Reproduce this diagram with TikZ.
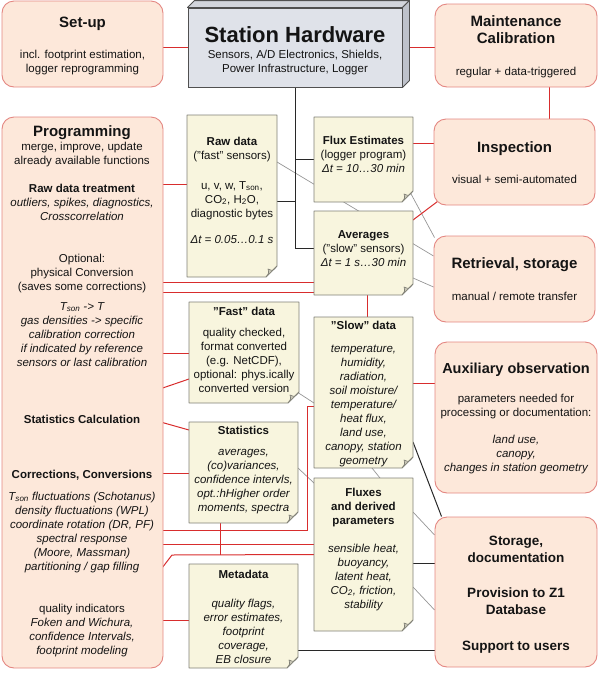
\documentclass[tikz,border=0pt]{standalone}
\usepackage{fontspec}
\setmainfont{Liberation Sans}
\usetikzlibrary{calc}
\pgfdeclarelayer{bg}
\pgfsetlayers{bg,main}

\definecolor{boxfill}{RGB}{253,232,218}
\definecolor{boxdraw}{RGB}{228,135,130}
\definecolor{notefill}{RGB}{248,245,222}
\definecolor{notedraw}{RGB}{128,128,118}
\definecolor{foldfill}{RGB}{200,198,182}
\definecolor{hwfront}{RGB}{223,226,233}
\definecolor{hwtop}{RGB}{210,213,220}
\definecolor{hwside}{RGB}{190,194,203}
\definecolor{hwdraw}{RGB}{80,80,80}
\definecolor{redln}{RGB}{216,45,45}
\definecolor{grayln}{RGB}{150,150,150}
\definecolor{blackln}{RGB}{40,40,40}
\definecolor{txtcol}{RGB}{20,20,20}

\newcommand\dq{\symbol{34}}

\tikzset{
 rbox/.style={draw=boxdraw, fill=boxfill, rounded corners=12pt, line width=0.9pt, inner sep=0pt},
 notenode/.style={inner sep=0pt, outer sep=0pt},
 notestyle/.style={draw=notedraw, fill=notefill, line width=0.8pt, line join=round},
 foldstyle/.style={draw=notedraw, fill=foldfill, line width=0.6pt, line join=round},
 txt/.style={anchor=base, align=center, inner sep=0pt, font=\fontsize{11.5}{14}\selectfont, text=txtcol},
 itx/.style={txt, font=\fontsize{11.5}{14}\selectfont\itshape},
 bfx/.style={txt, font=\fontsize{11.5}{14}\selectfont\bfseries},
 ttl/.style={txt, font=\fontsize{15}{17}\selectfont\bfseries},
 bigb/.style={txt, font=\fontsize{13.5}{17.5}\selectfont\bfseries},
 redc/.style={draw=redln, line width=1pt},
 blkc/.style={draw=blackln, line width=1pt},
 grayc/.style={draw=grayln, line width=0.7pt},
}

\newcommand\rbx[5]{\node[rbox, minimum width={#4pt-#2pt}, minimum height={#5pt-#3pt}] (#1) at ({(#2+#4)/2},{(#3+#5)/2}) {};}
\newcommand\notebx[5]{%
  \node[notenode, minimum width={#4pt-#2pt}, minimum height={#5pt-#3pt}] (#1) at ({(#2+#4)/2},{(#3+#5)/2}) {};
  \filldraw[notestyle] (#1.north west) -- (#1.north east) -- ([yshift=11pt]#1.south east) -- ([xshift=-11pt]#1.south east) -- (#1.south west) -- cycle;
  \filldraw[foldstyle] ([yshift=11pt]#1.south east) .. controls ([shift={(-4pt,6pt)}]#1.south east) .. ([shift={(-9pt,8pt)}]#1.south east) .. controls ([shift={(-8pt,4pt)}]#1.south east) .. ([xshift=-11pt]#1.south east) -- cycle;
}

\begin{document}
\begin{tikzpicture}[x=1pt,y=-1pt]
\useasboundingbox (0,0) rectangle (600,686);

% ---------- rounded boxes ----------
\rbx{setup}{2}{1}{163}{87}
\rbx{maint}{435}{4}{597}{87}
\rbx{prog}{2}{117}{163}{668}
\rbx{insp}{434}{119}{595}{205}
\rbx{retr}{434}{236}{595}{322}
\rbx{aux}{435}{342}{597}{493}
\rbx{stor}{435}{517}{597}{667}

% ---------- station hardware ----------
\node[draw=hwdraw, fill=hwfront, line width=0.9pt, minimum width=214pt, minimum height=79pt, inner sep=0pt] (hw) at (295,47.5) {};
\filldraw[draw=hwdraw, fill=hwtop, line width=0.9pt, line join=round] (hw.north west) -- ([shift={(7pt,7pt)}]hw.north west) -- ([shift={(7pt,7pt)}]hw.north east) -- (hw.north east) -- cycle;
\filldraw[draw=hwdraw, fill=hwside, line width=0.9pt, line join=round] (hw.north east) -- ([shift={(7pt,7pt)}]hw.north east) -- ([shift={(7pt,7pt)}]hw.south east) -- (hw.south east) -- cycle;

% ---------- note boxes ----------
\notebx{raw}{187}{115}{277}{277}
\notebx{fest}{314}{117}{413}{202}
\notebx{avg}{314}{211}{413}{295}
\notebx{fast}{189}{302}{299}{403}
\notebx{slow}{314}{317}{413}{468}
\notebx{stat}{189}{422}{298}{523}
\notebx{flx}{314}{478}{413}{631}
\notebx{meta}{189}{564}{298}{668}

% ---------- texts (base = baseline of the last line) ----------
\node[ttl] (setupt) at (82.5,27) {Set-up};
\node[txt] (setupb) at (82.5,72) {incl. footprint estimation,\\logger reprogramming};

\node[txt, font=\fontsize{22}{26}\selectfont\bfseries] (hwt) at (295,42) {Station Hardware};
\node[txt] (hwb) at (295,72) {Sensors, A/D Electronics, Shields,\\Power Infrastructure, Logger};

\node[ttl] (maintt) at (516,43) {Maintenance\\Calibration};
\node[txt] (maintb) at (516,75) {regular + data-triggered};

\node[ttl] (inspt) at (514.5,152) {Inspection};
\node[txt] (inspb) at (514.5,183) {visual + semi-automated};

\node[ttl] (retrt) at (514.5,268) {Retrieval, storage};
\node[txt] (retrb) at (514.5,300) {manual / remote transfer};

\node[txt, font=\fontsize{14.5}{17}\selectfont\bfseries] (auxt) at (516,373) {Auxiliary observation};
\node[txt] (auxb) at (516,416) {parameters needed for\\processing or documentation:};
\node[itx] (auxi) at (516,471) {land use,\\canopy,\\changes in station geometry};

\node[bigb] (stor1) at (516,562.5) {Storage,\\documentation};
\node[bigb] (stor2) at (516,614.5) {Provision to Z1\\Database};
\node[bigb] (stor3) at (516,650) {Support to users};

\node[ttl] (progt) at (82,136) {Programming};
\node[txt] (progs) at (82,164) {merge, improve, update\\already available functions};
\node[bfx] (rdt) at (82,192) {Raw data treatment};
\node[itx] (rdtb) at (82,220) {outliers, spikes, diagnostics,\\Crosscorrelation};
\node[txt] (opt) at (82,290) {Optional:\\physical Conversion\\(saves some corrections)};
\node[itx] (conv) at (82,366) {T\textsubscript{son} -> T\\gas densities -> specific\\calibration correction\\if indicated by reference\\sensors or last calibration};
\node[bfx] (statc) at (82,423) {Statistics Calculation};
\node[bfx] (corrc) at (82,478) {Corrections, Conversions};
\node[itx] (corrb) at (82,570) {T\textsubscript{son} fluctuations (Schotanus)\\density fluctuations (WPL)\\coordinate rotation (DR, PF)\\spectral response\\(Moore, Massman)\\partitioning / gap filling};
\node[txt] (qual) at (82,654) {quality indicators\\\textit{Foken and Wichura,}\\\textit{confidence Intervals,}\\\textit{footprint modeling}};

\node[txt] (rawt) at (232,159) {\textbf{Raw data}\\(\dq fast\dq{} sensors)};
\node[txt] (rawb) at (232,217) {u, v, w, T\textsubscript{son},\\CO\textsubscript{2}, H\textsubscript{2}O,\\diagnostic bytes};
\node[itx] (rawd) at (232,243) {Δt = 0.05…0.1 s};

\node[txt] (festt) at (363.5,172) {\textbf{Flux Estimates}\\(logger program)\\\textit{Δt = 10…30 min}};
\node[txt] (avgt) at (363.5,266) {\textbf{Averages}\\(\dq slow\dq{} sensors)\\\textit{Δt = 1 s…30 min}};

\node[bfx] (fastt) at (244,315) {\dq Fast\dq{} data};
\node[txt] (fastb) at (244,392) {quality checked,\\format converted\\(e.g. NetCDF),\\optional: phys.ically\\converted version};

\node[bfx] (slowt) at (363.5,329) {\dq Slow\dq{} data};
\node[itx] (slowb) at (363.5,464) {temperature,\\humidity,\\radiation,\\soil moisture/\\temperature/\\heat flux,\\land use,\\canopy, station\\geometry};

\node[bfx] (statt) at (243.5,434) {Statistics};
\node[itx] (statb) at (243.5,511) {averages,\\(co)variances,\\confidence intervls,\\opt.:hHigher order\\moments, spectra};

\node[bfx] (flxt) at (363.5,524) {Fluxes\\and derived\\parameters};
\node[itx] (flxb) at (363.5,608) {sensible heat,\\buoyancy,\\latent heat,\\CO\textsubscript{2}, friction,\\stability};

\node[bfx] (metat) at (243.5,578) {Metadata};
\node[itx] (metab) at (243.5,663) {quality flags,\\error estimates,\\footprint\\coverage,\\EB closure};

% ---------- free ends inside Programming ----------
\coordinate (pA) at (142,184);
\coordinate (pB) at (157,282);
\coordinate (pC) at (163,292);
\coordinate (pD) at (163,353);
\coordinate (pE) at (151,392);
\coordinate (pF) at (157,421);
\coordinate (pG) at (157,473);
\coordinate (pH) at (157,530);
\coordinate (pI) at (163,544);
\coordinate (pJ) at (142,594);
\coordinate (pK) at (163,620);

% ---------- connectors ----------
\begin{pgfonlayer}{bg}
 % gray
 \draw[grayc] ([yshift=34pt]raw.east) -- ([yshift=23pt]retr.west);
 \draw[grayc] ([shift={(-3pt,10pt)}]fest.south east) -- ([shift={(1pt,-2pt)}]retr.north west);
 \draw[grayc] ([yshift=-25pt]avg.east) -- ([yshift=-8pt]retr.west);
 \draw[grayc] ([shift={(-2pt,11pt)}]fast.south east) -- ([yshift=-10.5pt]slow.west);
 \draw[grayc] ([yshift=4.5pt]stat.east) -- ([yshift=-5pt]flx.north west);
 \draw[grayc] ([xshift=8.5pt]slow.south) -- ([xshift=16.5pt]flx.north);
 \draw[grayc] ([yshift=42.5pt]flx.east) -- ([yshift=57pt]stor.west);
 \draw[grayc] ([yshift=-32.5pt]flx.east) -- ([yshift=-18pt]stor.west);
 % black
 \draw[blkc] (hw.south) |- ([yshift=5pt]avg.west);
 \draw[blkc] (hw.south |- fest.west) -- (fest.west);
 \draw[blkc] ([yshift=-5pt]raw.east) -- ([yshift=-5pt]raw.east -| hw.south);
 \draw[blkc] ([yshift=-49.5pt]slow.east) -- ([xshift=7pt]stor.north west);
 \draw[blkc] ([yshift=-8.5pt]flx.east) -- ([yshift=-8.5pt]flx.east -| stor.west);
 \draw[blkc] ([yshift=18pt]meta.south east) -- ([yshift=18pt]meta.south east -| stor.west);
 % red
 \draw[redc] (setup.east |- hw.west) -- (hw.west);
 \draw[redc] ([xshift=7pt]hw.east) -- (maint.west |- hw.east);
 \draw[redc] ([xshift=33pt]maint.south) -- ([xshift=33pt]maint.south |- insp.north);
 \draw[redc] ([yshift=19pt]insp.west) -- ([yshift=19pt]insp.west -| fest.east);
 \draw[redc] ([shift={(4pt,4pt)}]insp.south west) -- ([yshift=-9pt]avg.north east);
 \draw[redc] ([yshift=-10pt]rdtb.south) -- ([yshift=5pt]opt.north);
 \draw[redc] (pA) -- (pA -| raw.west);
 \draw[redc] (pB) -- (pB -| avg.west);
 \draw[redc] (pC) -- (pC -| avg.west);
 \draw[redc] ([xshift=3.5pt]avg.south) -- ([xshift=3.5pt]avg.south |- slow.north);
 \draw[redc] (pD) -- (pD -| fast.west);
 \draw[redc] (pE) -- ([yshift=-26.5pt]fast.west);
 \draw[redc] (pF) -- ([yshift=42.5pt]stat.west);
 \draw[redc] (pG) -- (pG -| stat.west);
 \draw[redc] (pH) -- ++(150pt,0pt) |- ([yshift=-13.5pt]slow.west);
 \draw[redc] (pI) -- (pI -| flx.west);
 \draw[redc] (pJ) -- ++(30pt,39pt) -- (flx.west);
 \draw[redc] ([xshift=-23.5pt]stat.south) -- ([xshift=-23.5pt]stat.south |- flx.west);
 \draw[redc] (pK) -- (pK -| meta.west);
 \draw[redc] ([yshift=9.5pt]slow.east) -- ([yshift=9.5pt]slow.east -| aux.west);
\end{pgfonlayer}
\end{tikzpicture}
\end{document}
